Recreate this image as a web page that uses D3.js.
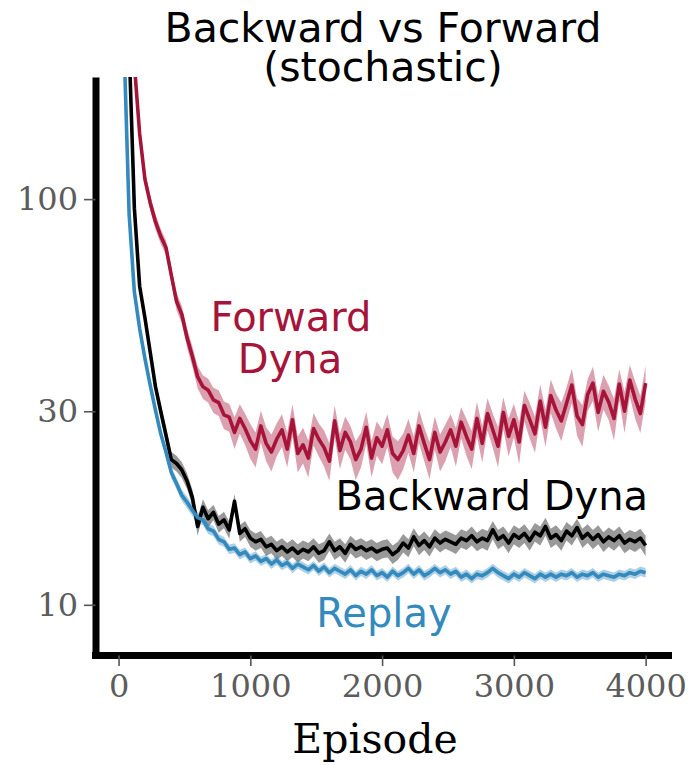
<!DOCTYPE html>
<html>
<head>
<meta charset="utf-8">
<script src="https://cdn.jsdelivr.net/npm/d3@7"></script>
<style>
  body { margin: 0; background: #fff; }
  svg { display: block; }
</style>
</head>
<body>
<svg id="chart"></svg>
<script>
// Backward vs Forward (stochastic) - episode length per episode, log y

const episodes = d3.range(0, 4001, 40);

const replayMean = [480, 250, 92, 59, 48, 40.5, 34.8, 30.2, 26.4, 23.8,
  21.2, 19.9, 18.6, 17.9, 17.1, 16.4, 16.2, 15.4, 15.2, 14.5,
  14.3, 13.7, 13.8, 13.3, 13.5, 13.0, 13.2, 12.8, 13.0, 12.6,
  12.9, 12.5, 12.7, 12.3, 12.6, 12.4, 12.2, 12.5, 12.1, 12.4,
  12.0, 12.3, 12.1, 11.9, 12.2, 11.8, 12.1, 11.9, 12.2, 11.8,
  12.0, 11.7, 12.1, 11.8, 12.0, 12.3, 11.9, 12.2, 11.8, 12.0,
  12.3, 12.0, 12.2, 11.9, 12.1, 11.7, 11.9, 11.6, 11.9, 11.8,
  12.0, 12.3, 12.0, 11.8, 11.6, 11.9, 11.7, 12.0, 11.8, 11.6,
  11.9, 11.7, 11.9, 11.7, 11.9, 11.8, 12.0, 11.7, 11.9, 11.8,
  12.0, 11.7, 11.9, 11.8, 11.7, 11.9, 11.8, 12.0, 11.9, 12.1, 12.0];
const replayErr = [12, 8, 3, 2, 1.5, 1.2, 1.0, 0.9, 0.8, 0.75,
  0.7, 0.65, 0.6, 0.6, 0.55, 0.5, 0.5, 0.45, 0.45, 0.42,
  0.4, 0.38, 0.38, 0.36, 0.36, 0.35, 0.35, 0.34, 0.34, 0.34,
  0.34, 0.33, 0.33, 0.33, 0.33, 0.33, 0.32, 0.33, 0.32, 0.33,
  0.32, 0.33, 0.32, 0.32, 0.33, 0.32, 0.32, 0.32, 0.33, 0.32,
  0.32, 0.32, 0.33, 0.32, 0.32, 0.33, 0.32, 0.33, 0.32, 0.32,
  0.33, 0.32, 0.33, 0.32, 0.32, 0.32, 0.32, 0.32, 0.32, 0.32,
  0.32, 0.33, 0.32, 0.32, 0.32, 0.32, 0.32, 0.32, 0.32, 0.32,
  0.32, 0.32, 0.32, 0.32, 0.32, 0.32, 0.32, 0.32, 0.32, 0.32,
  0.32, 0.32, 0.32, 0.32, 0.32, 0.32, 0.32, 0.32, 0.32, 0.33, 0.32];

const backwardMean = [620, 420, 240, 95, 61, 51, 42, 34.5, 30.0, 26.2,
  22.8, 22.3, 21.5, 20.2, 18.4, 15.6, 17.4, 16.3, 16.9, 15.8,
  16.2, 15.3, 18.0, 15.0, 15.4, 14.6, 14.3, 14.5, 13.9, 14.1,
  13.6, 13.9, 13.5, 13.8, 13.4, 13.7, 13.5, 13.9, 13.4, 13.6,
  14.3, 13.6, 13.9, 13.4, 14.1, 13.7, 13.9, 13.6, 13.8, 13.5,
  13.7, 13.8, 13.3, 13.6, 14.2, 13.8, 14.7, 14.0, 14.4, 13.9,
  14.6, 14.2, 14.5, 14.3, 14.1, 14.6, 14.4, 14.8, 14.3, 14.6,
  14.4, 15.3, 14.5, 14.8, 14.2, 14.9, 14.6, 15.0, 14.4, 15.1,
  14.8, 15.6, 14.6, 14.9, 14.4, 15.2, 14.8, 15.5, 14.6, 15.0,
  14.5, 14.9, 14.3, 14.7, 14.4, 14.8, 14.2, 14.5, 14.3, 14.6, 14.0];
const backwardErr = [15, 10, 6, 3, 2.2, 1.8, 1.5, 1.3, 1.2, 1.1,
  1.0, 1.0, 0.95, 0.9, 0.85, 0.8, 0.8, 0.8, 0.75, 0.75,
  0.75, 0.75, 0.75, 0.7, 0.7, 0.7, 0.7, 0.7, 0.7, 0.7,
  0.7, 0.7, 0.7, 0.7, 0.7, 0.7, 0.7, 0.7, 0.7, 0.7,
  0.7, 0.7, 0.7, 0.7, 0.7, 0.7, 0.7, 0.7, 0.7, 0.7,
  0.7, 0.7, 0.7, 0.7, 0.75, 0.7, 0.75, 0.75, 0.75, 0.75,
  0.75, 0.75, 0.75, 0.75, 0.75, 0.75, 0.75, 0.8, 0.75, 0.8,
  0.8, 0.8, 0.8, 0.8, 0.8, 0.8, 0.8, 0.8, 0.8, 0.8,
  0.8, 0.8, 0.8, 0.8, 0.8, 0.8, 0.8, 0.8, 0.8, 0.8,
  0.8, 0.8, 0.8, 0.8, 0.8, 0.8, 0.8, 0.8, 0.8, 0.8, 0.8];

const forwardMean = [900, 620, 380, 215, 145, 112, 98, 88, 81, 76,
  65, 56, 52, 45.5, 41, 36.5, 34.5, 33.8, 32.0, 31.5,
  29.4, 29.0, 26.6, 28.8, 27.2, 25.4, 24.2, 27.6, 25.0, 23.8,
  25.6, 27.0, 24.2, 28.6, 23.6, 24.8, 23.0, 27.2, 25.6, 24.4,
  22.6, 28.4, 24.0, 26.6, 25.2, 22.8, 24.2, 27.4, 23.0, 25.8,
  24.6, 27.0, 23.6, 22.8, 24.0, 26.2, 23.6, 27.6, 25.0, 22.8,
  26.6, 23.8, 25.2, 27.0, 24.6, 28.2, 26.0, 24.2, 28.8, 25.0,
  29.6, 27.0, 24.6, 29.8, 26.0, 28.6, 25.2, 31.0, 28.6, 26.4,
  31.8, 27.4, 32.8, 30.2, 28.4, 31.4, 34.8, 29.2, 27.8, 33.0,
  35.2, 29.8, 33.6, 31.6, 28.8, 35.0, 30.0, 35.8, 32.2, 29.6, 35.2];
const forwardErr = [30, 20, 12, 8, 6, 5, 4.2, 3.8, 3.4, 3.2,
  3.0, 2.8, 2.6, 2.5, 2.4, 2.3, 2.3, 2.3, 2.3, 2.3,
  2.3, 2.3, 2.4, 2.4, 2.4, 2.5, 2.4, 2.5, 2.4, 2.5,
  2.4, 2.5, 2.4, 2.6, 2.4, 2.5, 2.4, 2.5, 2.4, 2.5,
  2.4, 2.6, 2.4, 2.5, 2.4, 2.5, 2.4, 2.5, 2.4, 2.5,
  2.4, 2.5, 2.4, 2.5, 2.4, 2.5, 2.4, 2.6, 2.4, 2.4,
  2.5, 2.5, 2.6, 2.5, 2.7, 2.5, 2.7, 2.6, 2.8, 2.6,
  2.7, 2.6, 2.8, 2.7, 2.8, 2.7, 3.0, 2.7, 2.9, 2.7,
  3.1, 2.9, 3.1, 3.0, 3.1, 3.0, 3.4, 3.1, 3.3, 3.0,
  3.4, 3.1, 3.3, 3.1, 3.4, 3.1, 3.5, 3.2, 3.4, 3.1, 3.6];

const xTicks = [0, 1000, 2000, 3000, 4000];
const yTicks = [10, 30, 100];

const series = [
  { name: 'Forward Dyna', mean: forwardMean, err: forwardErr, color: '#a6143a' },
  { name: 'Backward Dyna', mean: backwardMean, err: backwardErr, color: '#000000' },
  { name: 'Replay', mean: replayMean, err: replayErr, color: '#348abd' }
];

const width = 690, height = 765;
const plot = { left: 95.5, right: 670, top: 77, bottom: 655.5 };

const svg = d3.select('#chart').attr('width', width).attr('height', height);

const x = d3.scaleLinear().domain([-175, 4185]).range([plot.left, plot.right]);
const y = d3.scaleLog().domain([7.5, 200]).range([plot.bottom, plot.top]);

svg.append('defs').append('clipPath').attr('id', 'plot-clip')
  .append('rect')
  .attr('x', plot.left).attr('y', plot.top)
  .attr('width', plot.right - plot.left).attr('height', plot.bottom - plot.top);

const marks = svg.append('g').attr('clip-path', 'url(#plot-clip)');

const area = d3.area()
  .x((d, i) => x(episodes[i]))
  .y0(d => y(d.lo))
  .y1(d => y(d.hi));
const line = d3.line()
  .x((d, i) => x(episodes[i]))
  .y(d => y(d));

series.forEach(s => {
  const band = s.mean.map((m, i) => ({ lo: m - s.err[i], hi: m + s.err[i] }));
  marks.append('path')
    .attr('d', area(band))
    .attr('fill', s.color)
    .attr('fill-opacity', 0.4)
    .attr('stroke', 'none');
});
series.forEach(s => {
  marks.append('path')
    .attr('d', line(s.mean))
    .attr('fill', 'none')
    .attr('stroke', s.color)
    .attr('stroke-width', 3.6)
    .attr('stroke-linejoin', 'round');
});

// axes (thick spines, thin grey ticks)
const xAxis = svg.append('g')
  .attr('transform', `translate(0,${plot.bottom})`)
  .call(d3.axisBottom(x).tickValues(xTicks).tickFormat(d3.format('d'))
    .tickSizeInner(10.5).tickSizeOuter(0).tickPadding(8));
const yAxis = svg.append('g')
  .attr('transform', `translate(${plot.left},0)`)
  .call(d3.axisLeft(y).tickValues(yTicks).tickFormat(d3.format('d'))
    .tickSizeInner(11.5).tickSizeOuter(0).tickPadding(6));

[xAxis, yAxis].forEach(g => {
  g.select('.domain').attr('stroke', '#000').attr('stroke-width', 7);
  g.selectAll('.tick line').attr('stroke', '#555').attr('stroke-width', 1.6);
  g.selectAll('.tick text')
    .attr('fill', '#5c5c5c')
    .style('font-family', '"DejaVu Serif", serif')
    .style('font-size', '32px');
});
xAxis.select('.domain').attr('d', `M${plot.left - 3.5},0H${plot.right + 2}`);

// titles and labels
const sans = '"DejaVu Sans", sans-serif';
svg.append('text').attr('x', 383).attr('y', 42).attr('text-anchor', 'middle')
  .style('font-family', sans).style('font-size', '41px').text('Backward vs Forward');
svg.append('text').attr('x', 383).attr('y', 81).attr('text-anchor', 'middle')
  .style('font-family', sans).style('font-size', '41px').text('(stochastic)');

svg.append('text').attr('x', 375).attr('y', 753).attr('text-anchor', 'middle')
  .style('font-family', '"DejaVu Serif", serif').style('font-size', '41px').text('Episode');

const labels = [
  { text: 'Forward', x: 291, y: 331, anchor: 'middle', color: '#a6143a' },
  { text: 'Dyna', x: 290, y: 373, anchor: 'middle', color: '#a6143a' },
  { text: 'Backward Dyna', x: 648, y: 510, anchor: 'end', color: '#000' },
  { text: 'Replay', x: 384, y: 627, anchor: 'middle', color: '#348abd' }
];
labels.forEach(l => {
  svg.append('text').attr('x', l.x).attr('y', l.y).attr('text-anchor', l.anchor)
    .attr('fill', l.color)
    .style('font-family', sans).style('font-size', '40px').text(l.text);
});
</script>
</body>
</html>
